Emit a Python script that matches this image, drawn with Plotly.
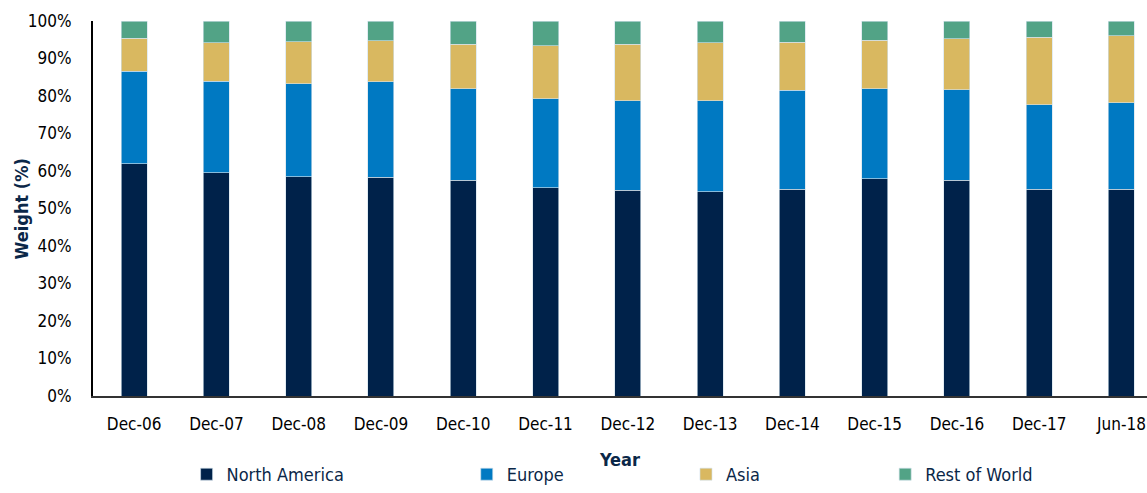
import plotly.graph_objects as go

# Regional weights (%) by period
periods = ["Dec-06", "Dec-07", "Dec-08", "Dec-09", "Dec-10", "Dec-11", "Dec-12",
           "Dec-13", "Dec-14", "Dec-15", "Dec-16", "Dec-17", "Jun-18"]
north_america = [62.0, 59.6, 58.5, 58.4, 57.5, 55.6, 54.9, 54.5, 55.1, 58.0, 57.5, 55.1, 55.1]
europe = [24.6, 24.4, 24.8, 25.4, 24.5, 23.7, 23.8, 24.2, 26.4, 23.9, 24.2, 22.6, 23.1]
asia = [8.8, 10.2, 11.2, 11.0, 11.8, 14.1, 15.1, 15.5, 12.8, 13.0, 13.6, 18.0, 17.9]
rest_of_world = [4.6, 5.8, 5.5, 5.2, 6.2, 6.6, 6.2, 5.8, 5.7, 5.1, 4.7, 4.3, 3.9]
y_ticks = [0, 10, 20, 30, 40, 50, 60, 70, 80, 90, 100]
y_tick_labels = ["0%", "10%", "20%", "30%", "40%", "50%", "60%", "70%", "80%", "90%", "100%"]

series = [
    ("North America", north_america, "#00224a", "legend", 0.0888),
    ("Europe", europe, "#0079c2", "legend2", 0.3546),
    ("Asia", asia, "#d9b860", "legend3", 0.5626),
    ("Rest of World", rest_of_world, "#52a386", "legend4", 0.7516),
]

FONT = "DejaVu Sans Condensed, Liberation Sans, sans-serif"
NAVY = "#0b2748"

fig = go.Figure()
for name, vals, color, leg, _ in series:
    fig.add_trace(go.Bar(
        x=periods, y=vals, name=name, legend=leg,
        marker=dict(color=color, line=dict(color="rgba(210,225,235,0.8)", width=0.8)),
    ))

# Each legend entry is its own legend, placed along the bottom edge
legend_common = dict(
    orientation="h", yanchor="bottom", y=-0.2587, xanchor="left",
    font=dict(family=FONT, size=18, color=NAVY), bgcolor="rgba(0,0,0,0)",
    borderwidth=0,
)
layout_legends = {}
for name, vals, color, leg, xpos in series:
    layout_legends[leg] = dict(legend_common, x=xpos)

fig.update_layout(
    barmode="stack",
    bargap=0.684,
    width=1147, height=493,
    margin=dict(l=93, r=0, t=21, b=97),
    paper_bgcolor="white", plot_bgcolor="white",
    font=dict(family=FONT, size=17, color="black"),
    showlegend=True,
    **layout_legends,
)

fig.add_annotation(
    text="<b>Weight (%)</b>", textangle=-90,
    xref="paper", yref="paper", x=-0.0674, y=0.5,
    xanchor="center", yanchor="middle", showarrow=False,
    font=dict(family=FONT, size=18, color=NAVY),
)

fig.update_xaxes(
    range=[-0.5, 12.31], automargin=False,
    showgrid=False, zeroline=False,
    showline=True, linecolor="#333333", linewidth=2,
    ticks="outside", ticklen=12, tickcolor="rgba(0,0,0,0)",
    tickfont=dict(family=FONT, size=17, color="black"),
    title=dict(text="<b>Year</b>", font=dict(family=FONT, size=18, color=NAVY), standoff=20),
)
fig.update_yaxes(
    range=[0, 100], tickvals=y_ticks, ticktext=y_tick_labels, automargin=False,
    showgrid=False, zeroline=False,
    showline=True, linecolor="black", linewidth=2,
    ticks="outside", ticklen=16, tickcolor="rgba(0,0,0,0)",
    tickfont=dict(family=FONT, size=17, color="black"),
)

fig.write_html("out.html")
